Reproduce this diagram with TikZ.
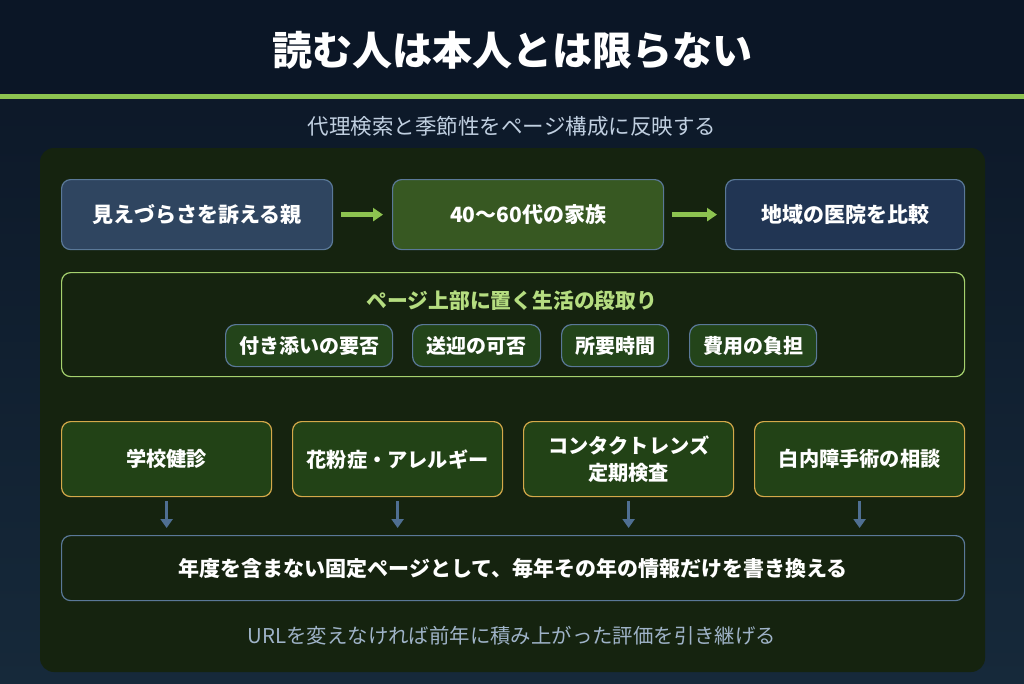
\documentclass[tikz,border=0pt]{standalone}
\usepackage{fontspec}
\setmainfont{Noto Sans CJK JP}
\usetikzlibrary{arrows.meta}
\definecolor{bgtop}{HTML}{0B1626}
\definecolor{bgbot}{HTML}{16293A}
\definecolor{panel}{HTML}{15230F}
\definecolor{lime}{HTML}{8DC350}
\definecolor{slate}{HTML}{5A7898}
\definecolor{gold}{HTML}{D4A94A}
\definecolor{arrb}{HTML}{4F6F92}
\definecolor{pillf}{HTML}{23441A}
\definecolor{topf}{HTML}{224216}
\tikzset{x=1pt,y=-1pt,
 box/.style={draw=slate,line width=1.2pt,rounded corners=9pt,text=white,font=\bfseries\fontsize{21}{25}\selectfont,align=center,anchor=north west},
 pill/.style={box,fill=pillf,font=\bfseries\fontsize{20}{22}\selectfont,rounded corners=10pt},
 topic/.style={box,draw=gold,fill=topf,font=\bfseries\fontsize{20.2}{27}\selectfont},
 garr/.style={-{Triangle[length=10pt,width=13pt]},line width=5pt,draw=lime},
 barr/.style={-{Triangle[length=9pt,width=12pt]},line width=3pt,draw=arrb}}
\begin{document}
\begin{tikzpicture}
\useasboundingbox (0,0) rectangle (1024,683);
\shade[top color=bgtop,bottom color=bgbot] (0,0) rectangle (1024,683);
\fill[bgtop] (0,0) rectangle (1024,95);
\fill[lime] (0,94) rectangle (1024,99);
\node[font=\bfseries\fontsize{40}{46}\selectfont,text=white] (title) at (512,50) {読む人は本人とは限らない};
\node[font=\fontsize{21.5}{26}\selectfont,text={rgb,255:red,192;green,207;blue,224}] (sub2) at (512,126) {代理検索と季節性をページ構成に反映する};
\fill[panel,rounded corners=14pt] (40,148) rectangle (985,672);
\node[box,fill={rgb,255:red,47;green,69;blue,96},minimum width=271pt,minimum height=70pt] (a) at (61,179) {見えづらさを訴える親};
\node[box,fill={rgb,255:red,55;green,88;blue,34},minimum width=271pt,minimum height=70pt] (b) at (392,179) {40〜60代の家族};
\node[box,fill={rgb,255:red,33;green,53;blue,83},minimum width=239pt,minimum height=70pt] (c) at (725,179) {地域の医院を比較};
\draw[garr] ([xshift=8pt]a.east) -- ([xshift=-9pt]b.west);
\draw[garr] ([xshift=8pt]b.east) -- ([xshift=-8pt]c.west);
\node[box,draw={rgb,255:red,165;green,209;blue,110},minimum width=903pt,minimum height=104pt] (g) at (61,272) {};
\node[font=\bfseries\fontsize{20.8}{24}\selectfont,text={rgb,255:red,181;green,221;blue,128}] (gt) at (512,301) {ページ上部に置く生活の段取り};
\node[pill,minimum width=167pt,minimum height=42pt] (p1) at (225,324) {付き添いの要否};
\node[pill,minimum width=128pt,minimum height=42pt] (p2) at (412,324) {送迎の可否};
\node[pill,minimum width=107pt,minimum height=42pt] (p3) at (561,324) {所要時間};
\node[pill,minimum width=127pt,minimum height=42pt] (p4) at (689,324) {費用の負担};
\node[topic,minimum width=210pt,minimum height=75pt] (t1) at (61,421) {学校健診};
\node[topic,minimum width=210pt,minimum height=75pt] (t2) at (292,421) {花粉症・アレルギー};
\node[topic,minimum width=210pt,minimum height=75pt] (t3) at (523,421) {コンタクトレンズ\\定期検査};
\node[topic,minimum width=210pt,minimum height=75pt] (t4) at (754,421) {白内障手術の相談};
\node[box,minimum width=903pt,minimum height=65pt] (w) at (61,535) {年度を含まない固定ページとして、毎年その年の情報だけを書き換える};
\foreach \i in {1,2,3,4}{
 \draw[barr] ([yshift=-4pt]t\i.south) -- ([yshift=7pt]t\i.south |- w.north);}
\node[font=\fontsize{20.4}{24}\selectfont,text={rgb,255:red,159;green,179;blue,200}] (f) at (512,636) {URLを変えなければ前年に積み上がった評価を引き継げる};
\end{tikzpicture}
\end{document}
